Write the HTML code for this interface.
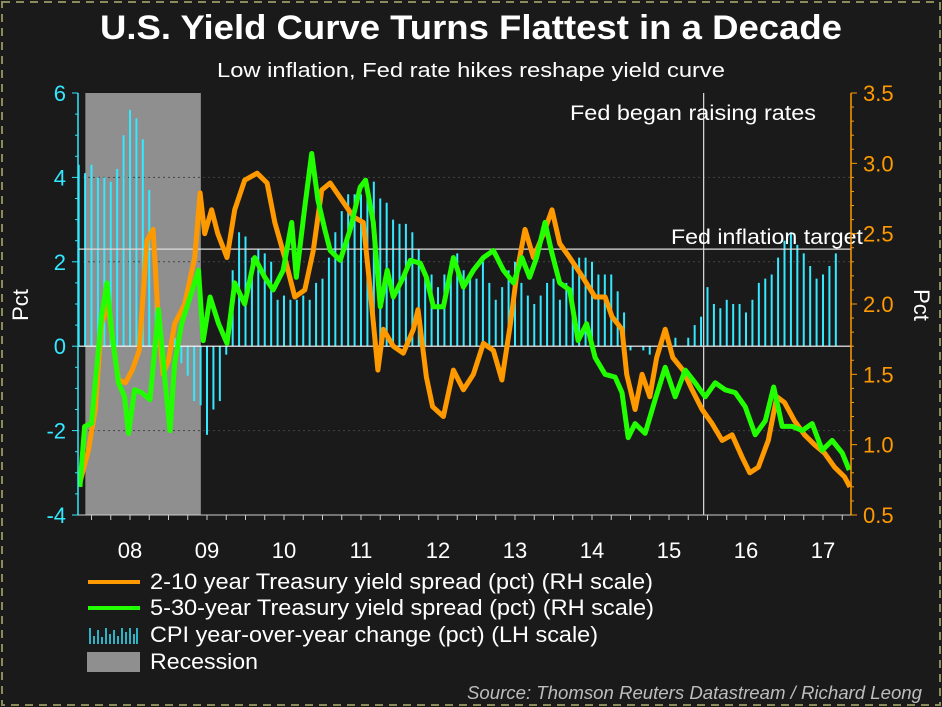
<!DOCTYPE html>
<html><head><meta charset="utf-8"><style>
html,body{margin:0;padding:0;background:#1a1a1a;}
svg{display:block;font-family:"Liberation Sans",Arial,sans-serif;}
</style></head><body>
<svg id="chart" width="942" height="707" viewBox="0 0 942 707" xmlns="http://www.w3.org/2000/svg">
<rect x="0" y="0" width="942" height="707" fill="#1a1a1a"/>
<rect x="2" y="2" width="938" height="703" fill="none" stroke="#8a8a5a" stroke-width="2" stroke-dasharray="8,6"/>
<text x="471" y="39" text-anchor="middle" fill="#fff" font-size="34" font-weight="bold" textLength="742" lengthAdjust="spacingAndGlyphs">U.S. Yield Curve Turns Flattest in a Decade</text>
<text x="471" y="77" text-anchor="middle" fill="#fff" font-size="20" textLength="508" lengthAdjust="spacingAndGlyphs">Low inflation, Fed rate hikes reshape yield curve</text>
<g id="plot"></g>
<g id="legend">
  <line x1="88" y1="582" x2="140" y2="582" stroke="#ff9900" stroke-width="4"/>
  <text x="150" y="589" fill="#fff" font-size="22" textLength="503" lengthAdjust="spacingAndGlyphs">2-10 year Treasury yield spread (pct) (RH scale)</text>
  <line x1="88" y1="608" x2="140" y2="608" stroke="#22ff00" stroke-width="4"/>
  <text x="150" y="615" fill="#fff" font-size="22" textLength="504" lengthAdjust="spacingAndGlyphs">5-30-year Treasury yield spread (pct) (RH scale)</text>
  <g stroke="#33e8ff" stroke-width="1.5">
    <line x1="90" y1="644" x2="90" y2="628"/><line x1="94" y1="644" x2="94" y2="636"/><line x1="98" y1="644" x2="98" y2="630"/><line x1="102" y1="644" x2="102" y2="637"/><line x1="106" y1="644" x2="106" y2="628"/><line x1="110" y1="644" x2="110" y2="634"/><line x1="114" y1="644" x2="114" y2="630"/><line x1="118" y1="644" x2="118" y2="636"/><line x1="122" y1="644" x2="122" y2="628"/><line x1="126" y1="644" x2="126" y2="632"/><line x1="130" y1="644" x2="130" y2="628"/><line x1="134" y1="644" x2="134" y2="634"/><line x1="137" y1="644" x2="137" y2="628"/>
  </g>
  <text x="150" y="642" fill="#fff" font-size="22" textLength="448" lengthAdjust="spacingAndGlyphs">CPI year-over-year change (pct) (LH scale)</text>
  <rect x="87" y="652" width="53" height="20" fill="#8f8f8f"/>
  <text x="150" y="669" fill="#fff" font-size="22" textLength="108" lengthAdjust="spacingAndGlyphs">Recession</text>
</g>
<text x="922" y="699" text-anchor="end" fill="#bdbdbd" font-size="18" font-style="italic" textLength="455" lengthAdjust="spacingAndGlyphs">Source: Thomson Reuters Datastream / Richard Leong</text>
</svg>
<script>
// CPI monthly, starting Nov 2007
const cpiStart = 2007 + 10/12;
const cpiValues = [4.3,4.1,4.3,4.0,4.0,3.9,4.2,5.0,5.6,5.4,4.9,3.7,1.1,0.1,0.0,0.2,-0.4,-0.7,-1.3,-1.4,-2.1,-1.5,-1.3,-0.2,1.8,2.7,2.6,2.1,2.3,2.2,2.0,1.1,1.2,1.1,1.1,1.2,1.1,1.5,1.6,2.1,2.7,3.2,3.6,3.6,3.6,3.8,3.9,3.5,3.4,3.0,2.9,2.9,2.7,2.3,1.7,1.7,1.4,1.7,2.0,2.2,1.8,1.7,1.6,2.0,1.5,1.1,1.4,1.8,2.0,1.5,1.2,1.0,1.2,1.5,1.6,1.1,1.5,2.0,2.1,2.1,2.0,1.7,1.7,1.7,1.3,0.8,-0.1,0.0,-0.1,-0.2,0.0,0.1,0.2,0.2,0.0,0.2,0.5,0.7,1.4,1.0,0.9,1.1,1.0,1.0,0.8,1.1,1.5,1.6,1.7,2.1,2.5,2.7,2.4,2.2,1.9,1.6,1.7,1.9,2.2];
// 2-10 spread (RH scale)
const t210 = [2007.85,2007.96,2008.05,2008.13,2008.21,2008.35,2008.44,2008.53,2008.62,2008.72,2008.8,2008.87,2008.93,2009.0,2009.08,2009.21,2009.34,2009.41,2009.47,2009.56,2009.64,2009.76,2009.86,2009.99,2010.15,2010.28,2010.38,2010.51,2010.64,2010.77,2010.88,2010.99,2011.1,2011.25,2011.4,2011.53,2011.62,2011.72,2011.79,2011.92,2012.05,2012.18,2012.24,2012.35,2012.43,2012.57,2012.70,2012.83,2012.96,2013.09,2013.22,2013.33,2013.44,2013.53,2013.63,2013.74,2013.87,2013.98,2014.08,2014.21,2014.38,2014.54,2014.67,2014.76,2014.89,2014.95,2015.06,2015.15,2015.25,2015.34,2015.45,2015.55,2015.68,2015.80,2015.93,2016.06,2016.19,2016.32,2016.45,2016.55,2016.66,2016.79,2016.9,2017.0,2017.13,2017.26,2017.39,2017.52,2017.65,2017.78,2017.85];
const v210 = [0.73,0.96,1.25,1.86,2.0,1.46,1.44,1.53,1.67,2.45,2.53,1.86,1.5,1.6,1.86,2.0,2.33,2.79,2.5,2.67,2.5,2.33,2.67,2.88,2.93,2.86,2.58,2.33,2.05,2.1,2.38,2.81,2.86,2.74,2.62,2.58,2.1,1.53,1.82,1.7,1.65,1.82,1.96,1.48,1.27,1.2,1.53,1.39,1.5,1.72,1.67,1.46,1.86,2.24,2.53,2.33,2.5,2.67,2.43,2.33,2.19,2.05,2.05,1.91,1.82,1.5,1.25,1.5,1.34,1.62,1.82,1.62,1.53,1.39,1.25,1.15,1.03,1.07,0.91,0.8,0.84,1.03,1.34,1.3,1.17,1.07,1.0,0.94,0.84,0.77,0.7];
// 5-30 spread (RH scale)
const t530 = [2007.85,2007.91,2008.0,2008.06,2008.13,2008.2,2008.26,2008.35,2008.43,2008.48,2008.56,2008.65,2008.76,2008.87,2008.95,2009.02,2009.08,2009.17,2009.28,2009.39,2009.45,2009.54,2009.65,2009.76,2009.86,2009.99,2010.12,2010.25,2010.36,2010.49,2010.60,2010.66,2010.77,2010.86,2010.94,2011.03,2011.10,2011.23,2011.36,2011.49,2011.56,2011.66,2011.75,2011.84,2011.92,2012.05,2012.14,2012.27,2012.35,2012.44,2012.57,2012.70,2012.83,2012.96,2013.09,2013.22,2013.35,2013.48,2013.59,2013.69,2013.78,2013.89,2013.98,2014.08,2014.21,2014.32,2014.43,2014.54,2014.67,2014.80,2014.89,2014.97,2015.06,2015.19,2015.32,2015.45,2015.58,2015.71,2015.84,2015.97,2016.10,2016.23,2016.36,2016.49,2016.62,2016.75,2016.86,2016.97,2017.10,2017.23,2017.36,2017.49,2017.62,2017.75,2017.84];
const v530 = [0.7,1.13,1.15,1.5,1.91,2.15,1.82,1.44,1.34,1.08,1.39,1.37,1.32,1.96,1.48,1.1,1.58,1.86,2.05,2.24,1.74,2.05,1.86,1.72,2.15,2.0,2.33,2.19,2.1,2.24,2.58,2.19,2.69,3.07,2.74,2.53,2.38,2.31,2.53,2.83,2.88,2.58,1.98,2.24,2.05,2.19,2.31,2.29,2.19,1.98,1.98,2.33,2.12,2.24,2.33,2.38,2.24,2.15,2.33,2.19,2.33,2.58,2.36,2.15,2.1,1.74,1.86,1.62,1.5,1.48,1.37,1.05,1.15,1.08,1.32,1.55,1.34,1.53,1.44,1.34,1.44,1.39,1.37,1.27,1.07,1.17,1.41,1.13,1.13,1.1,1.15,0.96,1.03,0.94,0.82];
const yearLabels = ["08","09","10","11","12","13","14","15","16","17"];
const leftTicks = [6,4,2,0,-2,-4];
const rightTicks = ["3.5","3.0","2.5","2.0","1.5","1.0","0.5"];
const recession = [2007.92, 2009.42];
const fedHike = 2015.95;
const inflationTargetLine = 2.3;

const NS = "http://www.w3.org/2000/svg";
const L = 78, R = 851, T = 93, B = 515;
const xS = t => 91.5 + 77 * (t - 2008);
const yL = v => B - (v + 4) / 10 * (B - T);
const yR = v => B - (v - 0.5) / 3 * (B - T);
const plot = document.getElementById('plot');
function mk(tag, attrs, parent) {
  const e = document.createElementNS(NS, tag);
  for (const k in attrs) e.setAttribute(k, attrs[k]);
  (parent || plot).appendChild(e);
  return e;
}
let e = mk('rect', {x: xS(recession[0]), y: T, width: xS(recession[1]) - xS(recession[0]), height: B - T, fill: '#8f8f8f'});


[4, 2, -2].forEach(v => {
  const g = mk('line', {x1: L, x2: R, y1: yL(v), y2: yL(v), stroke: '#444', 'stroke-dasharray': '2,3', 'stroke-width': 1});
  
  
});
const bars = mk('g', {});


cpiValues.forEach((v, i) => {
  const x = xS(cpiStart + i / 12);
  const b = mk('line', {x1: x, x2: x, y1: yL(0), y2: yL(v), stroke: '#33e8ff', 'stroke-width': 2}, bars);
  
  
});
e = mk('line', {x1: L, x2: R, y1: yL(0), y2: yL(0), stroke: '#fff', 'stroke-width': 1.2});


e = mk('line', {x1: L, x2: R, y1: yL(inflationTargetLine), y2: yL(inflationTargetLine), stroke: '#ddd', 'stroke-width': 1.2});


e = mk('line', {x1: xS(fedHike), x2: xS(fedHike), y1: T, y2: B, stroke: '#ddd', 'stroke-width': 1.2});


function pts(ts, vs) { return ts.map((t, i) => xS(t).toFixed(1) + ',' + yR(vs[i]).toFixed(1)).join(' '); }
e = mk('polyline', {points: pts(t210, v210), fill: 'none', stroke: '#ff9900', 'stroke-width': 5, 'stroke-linejoin': 'round'});


e = mk('polyline', {points: pts(t530, v530), fill: 'none', stroke: '#22ff00', 'stroke-width': 5, 'stroke-linejoin': 'round'});


e = mk('text', {x: 693, y: 120, 'text-anchor': 'middle', fill: '#fff', 'font-size': 21, textLength: 246, lengthAdjust: 'spacingAndGlyphs'});
e.textContent = 'Fed began raising rates';


e = mk('text', {x: 767, y: 244, 'text-anchor': 'middle', fill: '#fff', 'font-size': 21, textLength: 192, lengthAdjust: 'spacingAndGlyphs'});
e.textContent = 'Fed inflation target';


e = mk('line', {x1: L, x2: L, y1: T, y2: B, stroke: '#33e8ff', 'stroke-width': 1.5});


for (let v = -4; v <= 6.001; v += 0.5) {
  const major = Math.abs(v - Math.round(v / 2) * 2) < 0.01;
  mk('line', {x1: L - (major ? 6 : 3), x2: L, y1: yL(v), y2: yL(v), stroke: '#33e8ff', 'stroke-width': 1});
}
leftTicks.forEach(v => {
  const t = mk('text', {x: 66, y: yL(v) + 8, 'text-anchor': 'end', fill: '#33e8ff', 'font-size': 22});
  t.textContent = String(v);
  
  
});
e = mk('line', {x1: R, x2: R, y1: T, y2: B, stroke: '#ff9900', 'stroke-width': 1.5});


for (let v = 0.5; v <= 3.501; v += 0.1) {
  const major = Math.abs(v * 2 - Math.round(v * 2)) < 0.01;
  mk('line', {x1: R, x2: R + (major ? 6 : 3), y1: yR(v), y2: yR(v), stroke: '#ff9900', 'stroke-width': 1});
}
rightTicks.forEach(s => {
  const t = mk('text', {x: 863, y: yR(parseFloat(s)) + 8, fill: '#ff9900', 'font-size': 22});
  t.textContent = s;
  
  
});
e = mk('text', {x: 0, y: 0, transform: 'translate(28,305) rotate(-90)', 'text-anchor': 'middle', fill: '#fff', 'font-size': 22});
e.textContent = 'Pct';


e = mk('text', {x: 0, y: 0, transform: 'translate(914,305) rotate(90)', 'text-anchor': 'middle', fill: '#fff', 'font-size': 22});
e.textContent = 'Pct';


e = mk('line', {x1: L, x2: R, y1: B, y2: B, stroke: '#ccc', 'stroke-width': 1});


for (let q = 2007.75; q <= 2017.9; q += 0.25) {
  const x = xS(q);
  if (x < L || x > R) continue;
  mk('line', {x1: x, x2: x, y1: B, y2: B + 5, stroke: '#ccc', 'stroke-width': 1});
}
yearLabels.forEach((s, i) => {
  const t = mk('text', {x: xS(2008.5 + i), y: 558, 'text-anchor': 'middle', fill: '#fff', 'font-size': 22});
  t.textContent = s;
  
  
});
</script>
</body></html>
